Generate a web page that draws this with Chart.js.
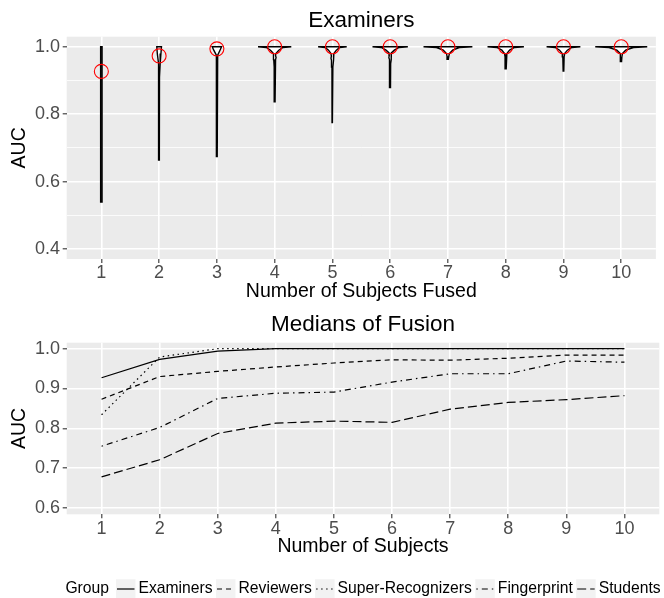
<!DOCTYPE html>
<html>
<head>
<meta charset="utf-8">
<script src="https://cdn.jsdelivr.net/npm/chart.js@4.4.1/dist/chart.umd.min.js"></script>
<style>
  html, body { margin: 0; padding: 0; background: #fff; }
  #wrap { position: relative; width: 664px; height: 598px; }
  canvas { position: absolute; left: 0; }
  #violins { top: 0; }
  #medians { top: 306px; }
</style>
</head>
<body>
<div id="wrap">
  <canvas id="violins" width="664" height="306"></canvas>
  <canvas id="medians" width="664" height="292"></canvas>
</div>
<script>
// number of subjects fused (x categories)
const subjects = [1, 2, 3, 4, 5, 6, 7, 8, 9, 10];

// medians of fusion
const examinersMedian = [0.927, 0.973, 0.994, 1.0, 1.0, 1.0, 1.0, 1.0, 1.0, 1.0];
const reviewersMedian = [0.873, 0.930, 0.943, 0.954, 0.964, 0.972, 0.971, 0.976, 0.984, 0.984];
const superRecognizersMedian = [0.834, 0.979, 1.0, 1.0, 1.0, 1.0, 1.0, 1.0, 1.0, 1.0];
const fingerprintMedian = [0.755, 0.802, 0.875, 0.888, 0.891, 0.916, 0.937, 0.937, 0.969, 0.966];
const studentsMedian = [0.678, 0.721, 0.787, 0.813, 0.818, 0.815, 0.848, 0.865, 0.872, 0.882];

// examiner violins: [AUC, relative density] from the minimum up to 1.0
const violinShapes = [
  [[0.539, 0.025], [0.6, 0.028], [0.8, 0.028], [0.95, 0.028], [1.0, 0.028]],
  [[0.664, 0.008], [0.85, 0.01], [0.91, 0.014], [0.95, 0.04], [0.98, 0.07], [1.0, 0.09]],
  [[0.674, 0.01], [0.9, 0.012], [0.96, 0.016], [0.975, 0.03], [0.99, 0.12], [1.0, 0.18]],
  [[0.837, 0.015], [0.94, 0.018], [0.962, 0.035], [0.968, 0.055], [0.974, 0.035], [0.98, 0.045], [0.99, 0.16], [0.998, 0.32], [1.0, 0.64]],
  [[0.773, 0.015], [0.94, 0.018], [0.96, 0.035], [0.966, 0.055], [0.972, 0.04], [0.98, 0.055], [0.99, 0.15], [0.998, 0.28], [1.0, 0.55]],
  [[0.879, 0.012], [0.95, 0.018], [0.962, 0.035], [0.968, 0.05], [0.975, 0.035], [0.982, 0.045], [0.99, 0.16], [0.998, 0.34], [1.0, 0.68]],
  [[0.963, 0.015], [0.972, 0.035], [0.98, 0.055], [0.99, 0.18], [0.998, 0.44], [1.0, 0.94]],
  [[0.935, 0.012], [0.97, 0.025], [0.98, 0.045], [0.99, 0.15], [0.998, 0.34], [1.0, 0.7]],
  [[0.926, 0.012], [0.97, 0.025], [0.98, 0.045], [0.99, 0.15], [0.998, 0.32], [1.0, 0.65]],
  [[0.956, 0.012], [0.97, 0.025], [0.98, 0.045], [0.99, 0.17], [0.998, 0.47], [1.0, 1.0]]
];

// axis ticks
const topYMajor = [0.4, 0.6, 0.8, 1.0];
const topYMinor = [0.5, 0.7, 0.9];
const bottomYMajor = [0.6, 0.7, 0.8, 0.9, 1.0];
const bottomYMinor = [0.65, 0.75, 0.85, 0.95];

const groupTitle = 'Group';
const groupNames = ['Examiners', 'Reviewers', 'Super-Recognizers', 'Fingerprint', 'Students'];

const FONT = "'Liberation Sans', Arial, Helvetica, sans-serif";
const VIOLIN_HALF = 0.45;

Chart.defaults.font.family = FONT;
Chart.defaults.color = '#000';

/**
 * ggplot-like grey panel behind the grid
 */
const panelBackground = {
    id: 'panelBackground',
    beforeDraw(chart) {
        const { ctx, chartArea: a } = chart;
        ctx.save();
        ctx.fillStyle = '#EBEBEB';
        ctx.fillRect(a.left, a.top, a.right - a.left, a.bottom - a.top);
        ctx.restore();
    }
};

/**
 * Inline legend under the lower panel: "Group" then one key per dataset
 */
const groupLegend = {
    id: 'groupLegend',
    afterDraw(chart) {
        const { ctx, chartArea } = chart;
        const KEY = 19.5;
        const y = chart.height - 9;
        const items = chart.data.datasets;
        ctx.save();
        ctx.font = `15.7px ${FONT}`;
        ctx.textBaseline = 'middle';
        let total = ctx.measureText(groupTitle).width + 7;
        items.forEach((d, i) => {
            total += KEY + 3 + ctx.measureText(d.label).width + (i < items.length - 1 ? 3.4 : 0);
        });
        let x = (chartArea.left + chartArea.right) / 2 - total / 2;
        ctx.fillStyle = '#000';
        ctx.fillText(groupTitle, x, y);
        x += ctx.measureText(groupTitle).width + 7;
        items.forEach((d) => {
            ctx.fillStyle = '#F2F2F2';
            ctx.fillRect(x, y - KEY / 2, KEY, KEY);
            ctx.strokeStyle = d.borderColor;
            ctx.lineWidth = d.borderWidth;
            ctx.setLineDash(d.borderDash || []);
            ctx.beginPath();
            ctx.moveTo(x + 1, y);
            ctx.lineTo(x + KEY - 1, y);
            ctx.stroke();
            ctx.setLineDash([]);
            x += KEY + 3;
            ctx.fillStyle = '#000';
            ctx.fillText(d.label, x, y);
            x += ctx.measureText(d.label).width + 3.4;
        });
        ctx.restore();
    }
};

function makeScales(yMin, yMax, yMajor, yMinor, xTitle) {
    const isMinor = (v) => yMinor.includes(v);
    return {
        x: {
            type: 'linear',
            min: 0.4,
            max: 10.6,
            afterBuildTicks: (s) => { s.ticks = subjects.map(v => ({ value: v })); },
            afterFit: (s) => { s.height = 47; },
            border: { display: false },
            grid: {
                color: '#FFFFFF',
                lineWidth: 1.6,
                tickColor: '#333333',
                tickLength: 4,
                tickWidth: 1.1
            },
            ticks: {
                color: '#4D4D4D',
                padding: 1.3,
                font: { size: 18, lineHeight: 1 },
                maxRotation: 0,
                callback: (v) => String(v)
            },
            title: {
                display: true,
                text: xTitle,
                color: '#000',
                font: { size: 19.5 },
                padding: { top: 2.6, bottom: 2.6 }
            }
        },
        y: {
            type: 'linear',
            min: yMin,
            max: yMax,
            afterBuildTicks: (s) => {
                s.ticks = yMajor.concat(yMinor).sort((a, b) => a - b).map(v => ({ value: v }));
            },
            afterFit: (s) => { s.width = 66.7; },
            border: { display: false },
            grid: {
                color: '#FFFFFF',
                lineWidth: (c) => isMinor(c.tick.value) ? 0.8 : 1.6,
                tickColor: (c) => isMinor(c.tick.value) ? 'rgba(0,0,0,0)' : '#333333',
                tickLength: 4,
                tickWidth: 1.1
            },
            ticks: {
                color: '#4D4D4D',
                padding: 2.7,
                font: { size: 18 },
                callback: (v) => yMajor.includes(v) ? v.toFixed(1) : ''
            },
            title: {
                display: true,
                text: 'AUC',
                color: '#000',
                font: { size: 19.5 },
                padding: { top: 8, bottom: 8 }
            }
        }
    };
}

function violinOutline(center, shape) {
    const left = shape.map(([auc, d]) => ({ x: center - d * VIOLIN_HALF, y: auc }));
    const right = shape.slice().reverse().map(([auc, d]) => ({ x: center + d * VIOLIN_HALF, y: auc }));
    return left.concat(right, [left[0]]);
}

// --- upper panel: violins of fused examiners ---
const violinDatasets = subjects.map((s, i) => ({
    type: 'scatter',
    data: violinOutline(s, violinShapes[i]),
    showLine: true,
    fill: 'shape',
    backgroundColor: '#FFFFFF',
    borderColor: '#000000',
    borderWidth: 1.4,
    pointRadius: 0,
    tension: 0,
    order: 2
}));

new Chart(document.getElementById('violins'), {
    type: 'scatter',
    data: {
        datasets: [{
            label: 'Median',
            data: subjects.map((s, i) => ({ x: s, y: examinersMedian[i] })),
            pointRadius: 7,
            pointBorderColor: '#FF0000',
            pointBackgroundColor: 'rgba(0,0,0,0)',
            pointBorderWidth: 1.1,
            order: 0
        }].concat(violinDatasets)
    },
    options: {
        responsive: false,
        animation: false,
        events: [],
        layout: { padding: { left: 0, right: 4.7, top: 0, bottom: 0 } },
        scales: makeScales(0.37, 1.03, topYMajor, topYMinor, 'Number of Subjects Fused'),
        plugins: {
            legend: { display: false },
            tooltip: { enabled: false },
            title: {
                display: true,
                text: 'Examiners',
                fullSize: false,
                color: '#000',
                font: { size: 22.5, weight: 'normal' },
                padding: { top: 7, bottom: 2.7 }
            }
        }
    },
    plugins: [panelBackground]
});

// --- lower panel: medians of fusion per group ---
const seriesValues = [examinersMedian, reviewersMedian, superRecognizersMedian, fingerprintMedian, studentsMedian];
const seriesDash = [[], [5, 4], [1.5, 3.5], [1.5, 4, 6, 4], [9, 4]];

new Chart(document.getElementById('medians'), {
    type: 'line',
    data: {
        labels: subjects,
        datasets: groupNames.map((name, i) => ({
            label: name,
            data: seriesValues[i],
            borderColor: '#000000',
            borderWidth: 1.2,
            borderDash: seriesDash[i],
            pointRadius: 0,
            tension: 0,
            fill: false
        }))
    },
    options: {
        responsive: false,
        animation: false,
        events: [],
        layout: { padding: { left: 0, right: 4.7, top: 0, bottom: 36.7 } },
        scales: makeScales(0.584, 1.015, bottomYMajor, bottomYMinor, 'Number of Subjects'),
        plugins: {
            legend: { display: false },
            tooltip: { enabled: false },
            title: {
                display: true,
                text: 'Medians of Fusion',
                fullSize: false,
                color: '#000',
                font: { size: 22.5, weight: 'normal' },
                padding: { top: 5.2, bottom: 4.5 }
            }
        }
    },
    plugins: [panelBackground, groupLegend]
});
</script>
</body>
</html>
